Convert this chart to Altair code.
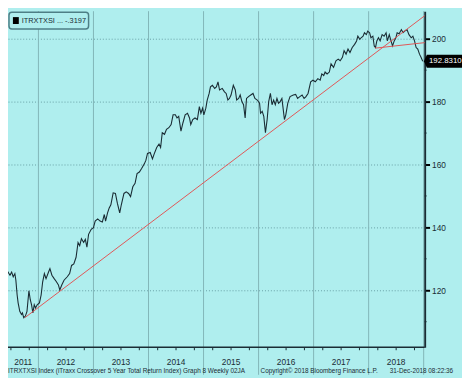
import altair as alt
import pandas as pd

# ---- data ----
t_pos = [2011.363, 2011.424, 2011.483, 2011.513, 2011.542, 2011.572, 2011.590, 2011.613, 2011.631, 2011.661,
         2011.692, 2011.709, 2011.733, 2011.763, 2011.792, 2011.809, 2011.827, 2011.852, 2011.875, 2011.899,
         2011.924, 2011.947, 2011.977, 2012.018, 2012.049, 2012.077, 2012.108, 2012.138, 2012.184, 2012.209,
         2012.245, 2012.286, 2012.327, 2012.363, 2012.388, 2012.424, 2012.465, 2012.524, 2012.567, 2012.602,
         2012.643, 2012.684, 2012.720, 2012.750, 2012.781, 2012.822, 2012.852, 2012.881, 2012.911, 2012.959,
         2013.000, 2013.031, 2013.077, 2013.120, 2013.161, 2013.197, 2013.220, 2013.256, 2013.286, 2013.316,
         2013.358, 2013.399, 2013.434, 2013.477, 2013.506, 2013.554, 2013.595, 2013.638, 2013.674, 2013.715,
         2013.756, 2013.792, 2013.834, 2013.875, 2013.924, 2013.952, 2013.982, 2014.031, 2014.072, 2014.102,
         2014.149, 2014.191, 2014.220, 2014.250, 2014.291, 2014.327, 2014.370, 2014.411, 2014.447, 2014.488,
         2014.518, 2014.549, 2014.590, 2014.625, 2014.666, 2014.709, 2014.745, 2014.768, 2014.804, 2014.845,
         2014.888, 2014.924, 2014.952, 2014.983, 2015.006, 2015.042, 2015.067, 2015.102, 2015.126, 2015.161,
         2015.202, 2015.233, 2015.263, 2015.291, 2015.340, 2015.381, 2015.411, 2015.442, 2015.470, 2015.500,
         2015.541, 2015.577, 2015.602, 2015.638, 2015.666, 2015.697, 2015.727, 2015.756, 2015.781, 2015.817,
         2015.858, 2015.899, 2015.934, 2015.977, 2016.018, 2016.036, 2016.066, 2016.095, 2016.125, 2016.156,
         2016.184, 2016.215, 2016.245, 2016.274, 2016.304, 2016.334, 2016.363, 2016.393, 2016.424, 2016.442,
         2016.470, 2016.495, 2016.531, 2016.572, 2016.631, 2016.674, 2016.709, 2016.750, 2016.791, 2016.827,
         2016.858, 2016.899, 2016.947, 2016.988, 2017.031, 2017.077, 2017.120, 2017.149, 2017.184, 2017.209,
         2017.245, 2017.286, 2017.317, 2017.363, 2017.406, 2017.447, 2017.483, 2017.524, 2017.554, 2017.590,
         2017.625, 2017.661, 2017.702, 2017.745, 2017.781, 2017.804, 2017.840, 2017.863, 2017.899, 2017.924,
         2017.959, 2017.983, 2018.018, 2018.042, 2018.077, 2018.102, 2018.125, 2018.149, 2018.179, 2018.209,
         2018.245, 2018.281, 2018.317, 2018.340, 2018.375, 2018.399, 2018.434, 2018.465, 2018.495, 2018.518,
         2018.554, 2018.595, 2018.625, 2018.656, 2018.697, 2018.733, 2018.774, 2018.804, 2018.834, 2018.863,
         2018.893, 2018.924, 2018.952, 2018.983]
levels = [127.1, 126.4, 124.8, 125.8, 124.3, 125.3, 123.2, 118.5, 116.0, 113.3,
          112.3, 112.8, 111.3, 111.8, 113.3, 116.5, 119.8, 117.0, 115.4, 112.8,
          115.4, 114.4, 115.4, 116.0, 118.5, 122.7, 125.3, 123.7, 125.8, 126.9,
          124.8, 123.7, 122.7, 121.7, 120.1, 121.7, 123.2, 124.3, 125.3, 127.9,
          128.4, 130.5, 135.2, 134.2, 136.4, 135.2, 136.2, 133.7, 137.8, 139.4,
          139.9, 142.0, 142.7, 142.0, 141.7, 144.1, 142.0, 144.6, 146.2, 147.2,
          151.0, 150.8, 147.7, 144.6, 147.2, 150.8, 151.3, 150.8, 149.8, 152.9,
          154.0, 157.1, 157.6, 158.7, 160.2, 161.3, 163.5, 163.8, 161.8, 163.3,
          165.4, 166.5, 165.4, 170.1, 169.6, 171.2, 171.7, 172.7, 175.8, 175.8,
          174.8, 175.3, 170.6, 173.2, 175.8, 176.3, 174.8, 172.7, 174.3, 174.8,
          174.3, 178.4, 176.3, 177.9, 175.8, 177.9, 180.5, 182.6, 184.7, 185.2,
          184.2, 184.7, 186.3, 183.7, 184.2, 183.1, 182.6, 180.5, 181.0, 182.1,
          185.2, 183.7, 180.5, 181.0, 182.1, 180.0, 179.0, 174.8, 181.0, 181.6,
          182.1, 182.6, 181.0, 180.5, 179.5, 176.3, 176.9, 175.3, 170.1, 174.3,
          180.0, 182.6, 179.0, 180.5, 179.0, 181.0, 179.5, 180.0, 181.0, 178.4,
          174.3, 175.8, 179.5, 181.6, 182.1, 182.3, 181.0, 181.6, 182.1, 181.0,
          181.5, 182.6, 186.3, 186.8, 186.3, 187.3, 186.8, 188.8, 188.3, 189.4,
          188.8, 189.4, 192.0, 190.9, 193.0, 193.5, 193.0, 194.1, 196.2, 195.1,
          196.7, 195.6, 197.2, 198.2, 199.3, 200.8, 199.8, 200.3, 200.8, 201.9,
          201.3, 202.4, 201.9, 200.3, 200.8, 197.7, 197.2, 199.3, 200.3, 199.3,
          201.3, 200.8, 201.9, 199.3, 201.3, 199.8, 197.7, 199.3, 200.3, 201.9,
          201.6, 202.9, 201.9, 202.4, 202.9, 201.3, 200.3, 200.8, 199.3, 197.2,
          196.7, 195.1, 194.1, 192.831]

trend_long_t = [2011.750, 2019.018]
trend_long_v = [111.25, 207.3]
trend_flat_t = [2018.117, 2019.018]
trend_flat_v = [197.0, 198.75]

y_major = [120, 140, 160, 180, 200]
y_minor = [110, 130, 150, 170, 190]
year_labels = ["2011", "2012", "2013", "2014", "2015", "2016", "2017", "2018"]
year_bounds = [2012, 2013, 2014, 2015, 2016, 2017, 2018, 2019]
last_value = 192.8310
legend_text = "ITRXTXSI ... -.3197"
footer_left = "ITRXTXSI Index (iTraxx Crossover 5 Year Total Return Index) Graph 8  Weekly 02JA"
footer_mid = "Copyright\u00a9 2018 Bloomberg Finance L.P."
footer_right = "31-Dec-2018 08:22:36"

# ---- layout ----
W, H = 424, 342
X0, X1 = 2011.447, 2019.018
Y0, Y1 = 101.875, 208.75
BG = "#AFEEEE"
INK = "#1a2c34"
RED = "#e05656"
FONT = "Liberation Sans"

xs = alt.Scale(domain=[X0, X1], nice=False, zero=False)
ys = alt.Scale(domain=[Y0, Y1], nice=False, zero=False)

series = pd.DataFrame({"t": t_pos, "v": levels})
long_df = pd.DataFrame({"t": trend_long_t, "v": trend_long_v})
flat_df = pd.DataFrame({"t": trend_flat_t, "v": trend_flat_v})
bounds_df = pd.DataFrame({"t": year_bounds})
mids = [max(int(y), X0) for y in year_labels]
labels_df = pd.DataFrame({"t": [(m + int(y) + 1) / 2 for m, y in zip(mids, year_labels)],
                          "label": year_labels})
tick_pos = [y + f for y in range(2011, 2019) for f in (1 / 6, 1 / 2, 5 / 6) if X0 <= y + f <= X1]
ticks_df = pd.DataFrame({"t": tick_pos})
minor_df = pd.DataFrame({"v": y_minor})

X = lambda: alt.X("t:Q", scale=xs, axis=None)

year_rules = alt.Chart(bounds_df).mark_rule(color="#82b6b8", strokeWidth=1).encode(
    x=X(), y=alt.value(0), y2=alt.value(H + 28))

main = alt.Chart(series).mark_line(color=INK, strokeWidth=1.1, clip=True).encode(
    x=X(),
    y=alt.Y("v:Q", scale=ys, axis=alt.Axis(
        orient="right", values=y_major, grid=True, gridDash=[1, 2], gridColor="#5f979c",
        gridOpacity=0.9, domainColor=INK, domainWidth=2, tickColor="#000", tickSize=5,
        tickWidth=2, labelFontSize=8.5, labelColor=INK, labelPadding=2, labelFont=FONT,
        title=None)))

long_line = alt.Chart(long_df).mark_line(color=RED, strokeWidth=1).encode(
    x=X(), y=alt.Y("v:Q", scale=ys))
flat_line = alt.Chart(flat_df).mark_line(color=RED, strokeWidth=1).encode(
    x=X(), y=alt.Y("v:Q", scale=ys))

bottom_axis = alt.Chart(pd.DataFrame({"a": [0]})).mark_rule(color=INK, strokeWidth=1.5).encode(
    x=alt.value(0), x2=alt.value(W), y=alt.value(H))
q_ticks = alt.Chart(ticks_df).mark_rule(color=INK, strokeWidth=1).encode(
    x=X(), y=alt.value(H), y2=alt.value(H + 3))
minor_ticks = alt.Chart(minor_df).mark_rule(color=INK, strokeWidth=1).encode(
    y=alt.Y("v:Q", scale=ys), x=alt.value(W), x2=alt.value(W + 2))

year_text = alt.Chart(labels_df).mark_text(font=FONT, fontSize=8.5, color=INK, baseline="middle").encode(
    x=X(), y=alt.value(H + 15), text="label:N")

foot1 = alt.Chart(pd.DataFrame({"s": [footer_left]})).mark_text(
    font=FONT, fontSize=6.5, color=INK, align="left", baseline="middle").encode(
    x=alt.value(0), y=alt.value(H + 24.5), text="s:N")
foot2 = alt.Chart(pd.DataFrame({"s": [footer_mid]})).mark_text(
    font=FONT, fontSize=6.5, color=INK, align="left", baseline="middle").encode(
    x=alt.value(257), y=alt.value(H + 24.5), text="s:N")
foot3 = alt.Chart(pd.DataFrame({"s": [footer_right]})).mark_text(
    font=FONT, fontSize=6.5, color=INK, align="right", baseline="middle").encode(
    x=alt.value(453), y=alt.value(H + 24.5), text="s:N")

legend_box = alt.Chart(pd.DataFrame({"s": [legend_text]})).mark_rect(
    fill=BG, stroke="#4d7f86", strokeWidth=1.5, cornerRadius=3).encode(
    x=alt.value(1), x2=alt.value(82), y=alt.value(1), y2=alt.value(18))
legend_sq = alt.Chart(pd.DataFrame({"s": [legend_text]})).mark_rect(fill="#000").encode(
    x=alt.value(5), x2=alt.value(11), y=alt.value(6), y2=alt.value(13))
legend_txt = alt.Chart(pd.DataFrame({"s": [legend_text]})).mark_text(
    font=FONT, fontSize=7.5, color=INK, align="left", baseline="middle").encode(
    x=alt.value(14), y=alt.value(10), text="s:N")

last_df = pd.DataFrame({"v": [last_value], "s": [f"{last_value:.4f}"]})
tag_shape = "M-1.12,0L-0.96,-0.36L1,-0.36L1,0.36L-0.96,0.36Z"
last_tag = alt.Chart(last_df).mark_point(shape=tag_shape, size=1369, filled=True,
                                         color="#000", opacity=1).encode(
    x=alt.value(W + 20), y=alt.Y("v:Q", scale=ys))
last_txt = alt.Chart(last_df).mark_text(font=FONT, fontSize=8, color="#fff",
                                        baseline="middle").encode(
    x=alt.value(W + 21), y=alt.Y("v:Q", scale=ys), text="s:N")

chart = alt.layer(
    year_rules, main, long_line, flat_line, bottom_axis, q_ticks, minor_ticks,
    year_text, foot1, foot2, foot3, legend_box, legend_sq, legend_txt, last_tag, last_txt
).properties(
    width=W, height=H, background=BG,
    autosize=alt.AutoSizeParams(type="none"),
    padding={"left": 0, "top": 0, "right": 38, "bottom": 28},
).configure_view(stroke=None)

chart.save("out.html", embed_options={"renderer": "svg", "actions": False})
